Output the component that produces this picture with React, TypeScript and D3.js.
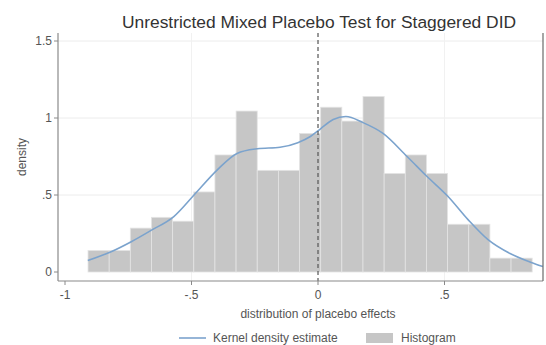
import React, { useEffect, useRef } from "react";
import * as d3 from "d3";

// histogram: 21 bins starting at -0.909, width 0.0836
const binStart = -0.909;
const binWidth = 0.0836;
const binDensity = [
  0.14, 0.14, 0.285, 0.355, 0.33, 0.52, 0.76, 1.045, 0.66, 0.66, 0.9,
  1.07, 0.98, 1.14, 0.64, 0.76, 0.64, 0.31, 0.31, 0.09, 0.09,
];

// kernel density estimate
const kdeX = [
  -0.91, -0.82, -0.74, -0.66, -0.57, -0.49, -0.4, -0.32, -0.24, -0.15, -0.08,
  -0.03, 0.01, 0.06, 0.11, 0.178, 0.257, 0.352, 0.431, 0.514, 0.593, 0.672,
  0.759, 0.846, 0.889,
];
const kdeY = [
  0.075, 0.13, 0.195, 0.27, 0.36, 0.5, 0.66, 0.77, 0.8, 0.81, 0.84, 0.88,
  0.93, 0.99, 1.01, 0.97, 0.9, 0.75, 0.62, 0.49, 0.34, 0.21, 0.12, 0.06,
  0.035,
];

const xTicks = [-1, -0.5, 0, 0.5];
const xTickLabels = ["-1", "-.5", "0", ".5"];
const yTicks = [0, 0.5, 1, 1.5];
const yTickLabels = ["0", ".5", "1", "1.5"];

const W = 546, H = 345;
const font = "'Liberation Sans', Arial, sans-serif";
const blue = "#7ba3cd";

export default function App() {
  const ref = useRef<SVGSVGElement>(null);

  useEffect(() => {
    const svg = d3.select(ref.current);
    svg.selectAll("*").remove();

    const left = 58, right = 543, top = 33, bottom = 281;
    const x = d3.scaleLinear().domain([-1.0277, 0.8893]).range([left, right]);
    const y = d3.scaleLinear().domain([0, 1.5]).range([272, 41]);

    const g = svg.append("g");

    // grid
    g.selectAll(".hgrid").data(yTicks.slice(1)).join("line")
      .attr("x1", left).attr("x2", right)
      .attr("y1", d => y(d)).attr("y2", d => y(d))
      .attr("stroke", "#ececec").attr("stroke-width", 1);
    g.selectAll(".vgrid").data([-0.5, 0.5]).join("line")
      .attr("x1", d => x(d)).attr("x2", d => x(d))
      .attr("y1", top).attr("y2", bottom)
      .attr("stroke", "#f1f1f1").attr("stroke-width", 1);

    // histogram bars
    g.selectAll(".bar").data(binDensity).join("rect")
      .attr("x", (d, i) => x(binStart + i * binWidth))
      .attr("width", (d, i) => x(binStart + (i + 1) * binWidth) - x(binStart + i * binWidth))
      .attr("y", d => y(d))
      .attr("height", d => y(0) - y(d))
      .attr("fill", "#c6c6c6")
      .attr("stroke", "#e4e4e4")
      .attr("stroke-width", 0.8);

    // kde
    const pts = kdeX.map((v, i) => [v, kdeY[i]] as [number, number]);
    g.append("path")
      .attr("d", d3.line().x(d => x(d[0])).y(d => y(d[1])).curve(d3.curveMonotoneX)(pts))
      .attr("fill", "none")
      .attr("stroke", blue)
      .attr("stroke-width", 1.6);

    // zero line
    g.append("line")
      .attr("x1", x(0)).attr("x2", x(0))
      .attr("y1", top).attr("y2", bottom)
      .attr("stroke", "#555").attr("stroke-width", 1.2)
      .attr("stroke-dasharray", "4,3");

    // frame
    g.append("line").attr("x1", left).attr("x2", left).attr("y1", top).attr("y2", bottom)
      .attr("stroke", "#8a8a8a").attr("stroke-width", 1.2);
    g.append("line").attr("x1", left).attr("x2", right).attr("y1", bottom).attr("y2", bottom)
      .attr("stroke", "#8a8a8a").attr("stroke-width", 1.2);
    g.append("line").attr("x1", right).attr("x2", right).attr("y1", top).attr("y2", bottom)
      .attr("stroke", "#6a6a6a").attr("stroke-width", 1.2);

    // y ticks
    g.selectAll(".ytick").data(yTicks).join("line")
      .attr("x1", left - 4).attr("x2", left)
      .attr("y1", d => y(d)).attr("y2", d => y(d))
      .attr("stroke", "#8a8a8a");
    g.selectAll(".ylab").data(yTicks).join("text")
      .attr("x", left - 6).attr("y", d => y(d) + 4)
      .attr("text-anchor", "end")
      .style("font", `12px ${font}`).attr("fill", "#555")
      .text((d, i) => yTickLabels[i]);

    // x ticks
    g.selectAll(".xtick").data(xTicks).join("line")
      .attr("x1", d => x(d)).attr("x2", d => x(d))
      .attr("y1", bottom).attr("y2", bottom + 4)
      .attr("stroke", "#8a8a8a");
    g.selectAll(".xlab").data(xTicks).join("text")
      .attr("x", d => x(d)).attr("y", bottom + 18)
      .attr("text-anchor", "middle")
      .style("font", `12px ${font}`).attr("fill", "#555")
      .text((d, i) => xTickLabels[i]);

    // titles
    svg.append("text").attr("x", 319).attr("y", 28)
      .attr("text-anchor", "middle")
      .style("font", `17.4px ${font}`).attr("fill", "#333")
      .text("Unrestricted Mixed Placebo Test for Staggered DID");
    svg.append("text").attr("x", x(0)).attr("y", 318)
      .attr("text-anchor", "middle")
      .style("font", `12px ${font}`).attr("fill", "#555")
      .text("distribution of placebo effects");
    svg.append("text")
      .attr("transform", `translate(26, ${(top + bottom) / 2}) rotate(-90)`)
      .attr("text-anchor", "middle")
      .style("font", `12px ${font}`).attr("fill", "#555")
      .text("density");

    // legend
    const ly = 338;
    svg.append("line").attr("x1", 179).attr("x2", 206).attr("y1", ly).attr("y2", ly)
      .attr("stroke", blue).attr("stroke-width", 1.6);
    svg.append("text").attr("x", 213).attr("y", ly + 4)
      .style("font", `12px ${font}`).attr("fill", "#555")
      .text("Kernel density estimate");
    svg.append("rect").attr("x", 366).attr("y", ly - 5).attr("width", 27).attr("height", 10)
      .attr("fill", "#c6c6c6");
    svg.append("text").attr("x", 401).attr("y", ly + 4)
      .style("font", `12px ${font}`).attr("fill", "#555")
      .text("Histogram");
  }, []);

  return (
    <svg ref={ref} width={W} height={H}
      style={{ position: "absolute", left: 0, top: 0, background: "#fff" }} />
  );
}
